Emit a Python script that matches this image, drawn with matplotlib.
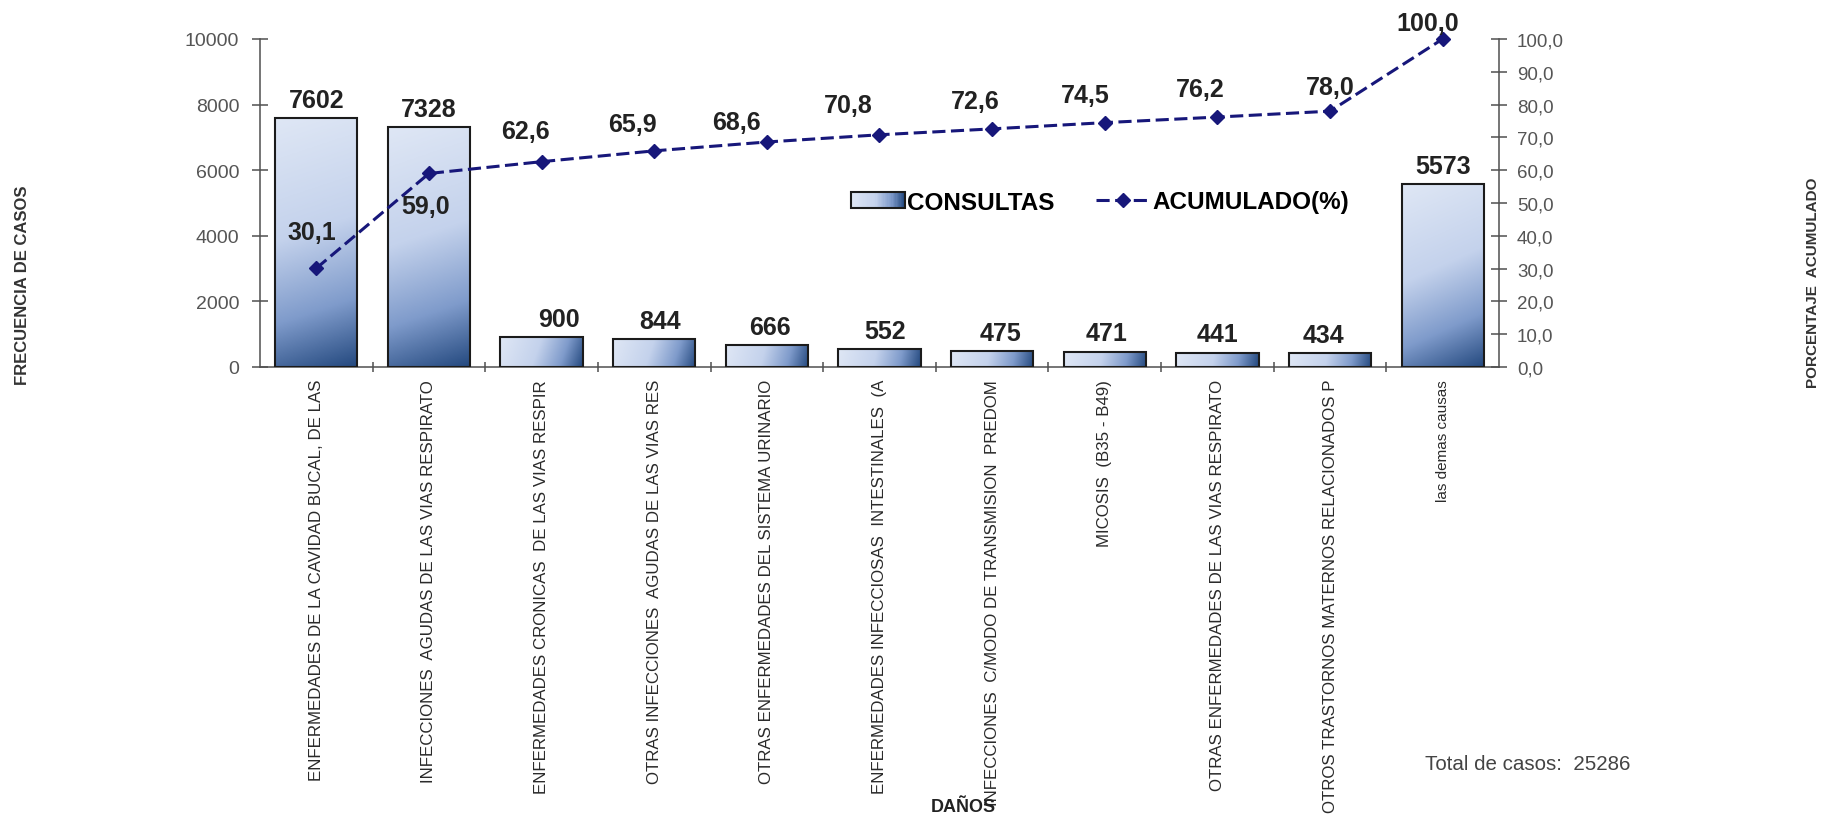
import numpy as np
import matplotlib
matplotlib.use("Agg")
import matplotlib.pyplot as plt
from matplotlib.colors import LinearSegmentedColormap
from matplotlib.patches import Rectangle
from matplotlib.lines import Line2D
from matplotlib.legend_handler import HandlerBase
from matplotlib.ticker import FuncFormatter, MultipleLocator

plt.rcParams['font.family'] = ['Liberation Sans', 'DejaVu Sans']

# ---- data -------------------------------------------------------------
categories = [
    "ENFERMEDADES DE LA CAVIDAD BUCAL, DE LAS",
    "INFECCIONES  AGUDAS DE LAS VIAS RESPIRATO",
    "ENFERMEDADES CRONICAS  DE LAS VIAS RESPIR",
    "OTRAS INFECCIONES  AGUDAS DE LAS VIAS RES",
    "OTRAS ENFERMEDADES DEL SISTEMA URINARIO",
    "ENFERMEDADES INFECCIOSAS  INTESTINALES  (A",
    "INFECCIONES  C/MODO DE TRANSMISION  PREDOM",
    "MICOSIS  (B35 - B49)",
    "OTRAS ENFERMEDADES DE LAS VIAS RESPIRATO",
    "OTROS TRASTORNOS MATERNOS RELACIONADOS P",
    "las demas causas",
]
consultas = [7602, 7328, 900, 844, 666, 552, 475, 471, 441, 434, 5573]
acumulado = [30.1, 59.0, 62.6, 65.9, 68.6, 70.8, 72.6, 74.5, 76.2, 78.0, 100.0]
total_casos = 25286

# label nudges (pixels; x right, y down from the marker)
bar_label_dx = [0, 0, 17, 6, 3, 6, 8, 2, 0, -7, 0]
line_label_offsets = [(-4, -38), (-3, 31), (-16, -33), (-22, -29), (-30, -22),
                      (-31, -32), (-17, -30), (-20, -30), (-17, -30), (0, -26),
                      (-15, -18)]

# ---- figure layout ----------------------------------------------------
W, H, DPI = 1849, 820, 100
fig = plt.figure(figsize=(W / DPI, H / DPI), dpi=DPI, facecolor='white')
ax = fig.add_axes([260 / W, 1 - 368 / H, 1239 / W, 328 / H])

AXIS_GREY = '#505050'
NAVY = '#17177a'
fmt_comma = lambda v: f"{v:.1f}".replace('.', ',')

x = np.arange(len(categories))
ax.set_xlim(-0.5, len(categories) - 0.5)
ax.set_ylim(0, 10000)

grad_cmap = LinearSegmentedColormap.from_list(
    'bar_grad',
    [(0.0, '#dfe7f5'), (0.45, '#c4d2ec'), (0.75, '#7f9bcb'), (1.0, '#24497f')])

bars = ax.bar(x, consultas, width=0.73, facecolor='none',
              edgecolor='#1b1b1b', linewidth=1.5, zorder=3)

# diagonal gradient fill inside each bar
for rect in bars:
    x0, w, h = rect.get_x(), rect.get_width(), rect.get_height()
    (px0, py0), (px1, py1) = ax.transData.transform([(x0, 0), (x0 + w, h)])
    wp, hp = abs(px1 - px0), abs(py1 - py0)
    u = np.linspace(0, 1, 120)[None, :]
    s = np.linspace(0, 1, 300)[:, None]
    t = (u * wp ** 2 + s * hp ** 2) / (wp ** 2 + hp ** 2)
    im = ax.imshow(t, cmap=grad_cmap, vmin=0, vmax=1,
                   extent=(x0, x0 + w, 0, h), origin='upper',
                   aspect='auto', zorder=2, interpolation='bilinear')
    im.set_clip_path(rect)

ax.set_xlim(-0.5, len(categories) - 0.5)
ax.set_ylim(0, 10000)

# cumulative percentage on the secondary axis
ax2 = ax.twinx()
ax2.set_ylim(0, 100)
ax2.plot(x, acumulado, color=NAVY, lw=2.2, dashes=(4.3, 1.8),
         marker='D', ms=7.5, mfc=NAVY, mec=NAVY, clip_on=False, zorder=5)

# ---- axes styling -----------------------------------------------------
for a in (ax, ax2):
    a.spines['top'].set_visible(False)
    for sp in a.spines.values():
        sp.set_color(AXIS_GREY)
        sp.set_linewidth(1.1)
ax.spines['right'].set_visible(False)
ax2.spines['left'].set_visible(False)
ax2.spines['bottom'].set_visible(False)

ax.yaxis.set_major_locator(MultipleLocator(2000))
ax.tick_params(axis='y', direction='inout', length=12, width=1.1,
               color=AXIS_GREY, labelsize=14, labelcolor='#555555', pad=9)
ax2.yaxis.set_major_locator(MultipleLocator(10))
ax2.yaxis.set_major_formatter(FuncFormatter(lambda v, p: fmt_comma(v)))
ax2.tick_params(axis='y', direction='inout', length=12, width=1.1,
                color=AXIS_GREY, labelsize=13.5, labelcolor='#555555', pad=7)

ax.set_xticks(x)
ax.set_xticklabels(categories, rotation=90, fontsize=12.2, color='#2a2a2a',
                   va='top', ha='center')
for lbl in ax.get_xticklabels():
    if lbl.get_text().islower():
        lbl.set_fontsize(11)
ax.tick_params(axis='x', which='major', length=0, pad=8.6)
ax.set_xticks(np.arange(0.5, len(categories) - 1), minor=True)
ax.tick_params(axis='x', which='minor', direction='inout', length=7,
               width=1.1, color=AXIS_GREY)

# ---- value labels -----------------------------------------------------
for xi, v, dx in zip(x, consultas, bar_label_dx):
    ax.annotate(f"{v}", (xi, v), xytext=(dx * 0.72, 8),
                textcoords='offset points', ha='center', va='baseline',
                fontsize=18, fontweight='bold', color='#222222',
                zorder=6, annotation_clip=False)

for xi, v, (dx, dy) in zip(x, acumulado, line_label_offsets):
    ax2.annotate(fmt_comma(v), (xi, v), xytext=(dx * 0.72, -(dy + 9) * 0.72),
                 textcoords='offset points', ha='center', va='baseline',
                 fontsize=18, fontweight='bold', color='#222222',
                 zorder=6, annotation_clip=False)


# ---- legend -----------------------------------------------------------
class GradientHandler(HandlerBase):
    def create_artists(self, legend, orig_handle, xdescent, ydescent,
                       width, height, fontsize, trans):
        n = 40
        arts = []
        for i in range(n):
            arts.append(Rectangle((-xdescent + width * i / n, -ydescent),
                                  width / n + 0.3, height,
                                  facecolor=grad_cmap((i + 0.5) / n),
                                  edgecolor='none', transform=trans))
        arts.append(Rectangle((-xdescent, -ydescent), width, height,
                              facecolor='none', edgecolor='#1b1b1b',
                              lw=1.5, transform=trans))
        return arts


bar_proxy = Rectangle((0, 0), 1, 1)
line_proxy = Line2D([], [], color=NAVY, lw=2.2, dashes=(4.3, 1.8),
                    marker='D', ms=7.5, mfc=NAVY, mec=NAVY)
fig.legend([bar_proxy, line_proxy], ['CONSULTAS', 'ACUMULADO(%)'],
           handler_map={Rectangle: GradientHandler()}, loc='center',
           bbox_to_anchor=(1100 / W, 1 - 203 / H), ncol=2, frameon=False,
           prop={'weight': 'bold', 'size': 17.5}, handlelength=2.2,
           handletextpad=0.1, columnspacing=1.7, handleheight=0.6,
           numpoints=1)

# ---- axis titles and note ----------------------------------------------
fig.text(23 / W, 1 - 285 / H, 'FRECUENCIA DE CASOS', rotation=90,
         ha='center', va='center', fontsize=12, fontweight='bold',
         color='#333333')
fig.text(1813 / W, 1 - 283 / H, 'PORCENTAJE  ACUMULADO', rotation=90,
         ha='center', va='center', fontsize=11, fontweight='bold',
         color='#333333')
fig.text(963 / W, 1 - 808 / H, 'DAÑOS', ha='center', va='center',
         fontsize=13, fontweight='bold', color='#222222')
fig.text(1425 / W, 1 - 765 / H, f'Total de casos:  {total_casos}',
         ha='left', va='center', fontsize=14.8, color='#444444')

fig.savefig('out.png', dpi=DPI, facecolor='white')
